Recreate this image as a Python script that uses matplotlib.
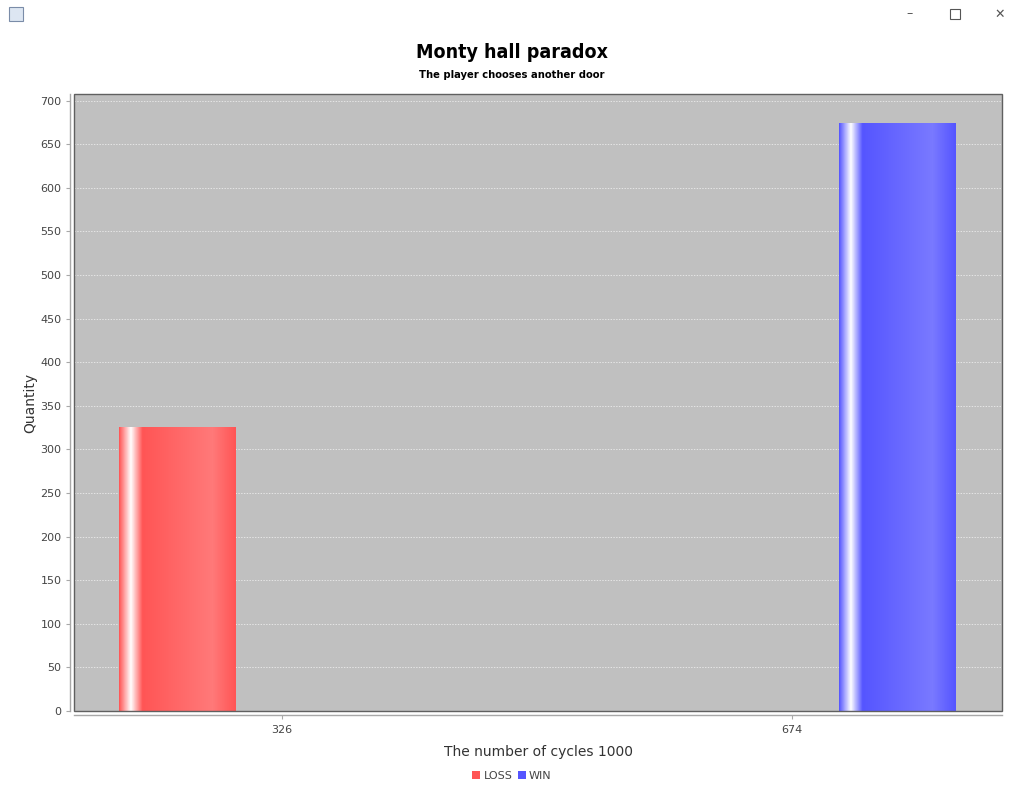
import numpy as np
import matplotlib
matplotlib.use("Agg")
import matplotlib.pyplot as plt
from matplotlib.patches import Patch, Rectangle
from matplotlib.colors import to_rgb

# ---- data ----
categories = ["326", "674"]
series_names = ["LOSS", "WIN"]
loss_values = [326, 0]
win_values = [0, 674]
y_ticks = list(range(0, 701, 50))

title = "Monty hall paradox"
subtitle = "The player chooses another door"
xlabel = "The number of cycles 1000"
ylabel = "Quantity"

colors = {"LOSS": "#FF5555", "WIN": "#5555FF"}

W, H = 1024, 797
fig = plt.figure(figsize=(W / 100, H / 100), dpi=100)
fig.patch.set_facecolor("white")

L, R, T, B = 74, 1002, 94, 711
ax = fig.add_axes([L / W, 1 - B / H, (R - L) / W, (B - T) / H])
ax.set_facecolor("#C0C0C0")

x = np.arange(len(categories))
width = 0.2275
offset = 0.205


def brighter(c):
    r, g, b = to_rgb(c)
    return tuple(min(1.0, v / 0.7) for v in (r, g, b))


def gradient_fill(bars, base):
    c0 = np.array(to_rgb(base))
    c1 = np.array(brighter(base))
    wt = np.array([1.0, 1.0, 1.0])
    stops = [0.0, 0.1, 0.2, 0.8, 1.0]
    cols = [c0, wt, c0, c1, c0]
    n = 200
    t = np.linspace(0, 1, n)
    img = np.zeros((1, n, 3))
    for k in range(3):
        img[0, :, k] = np.interp(t, stops, [c[k] for c in cols])
    for p in bars:
        h = p.get_height()
        if h <= 0:
            continue
        x0 = p.get_x()
        x1 = x0 + p.get_width()
        im = ax.imshow(img, extent=(x0, x1, 0, h), aspect="auto",
                       interpolation="bilinear", zorder=3)
        im.set_clip_path(p)
        p.set_facecolor("none")


bars_loss = ax.bar(x - offset, loss_values, width, color=colors["LOSS"], zorder=3, linewidth=0)
bars_win = ax.bar(x + offset, win_values, width, color=colors["WIN"], zorder=3, linewidth=0)
gradient_fill(bars_loss, colors["LOSS"])
gradient_fill(bars_win, colors["WIN"])

ax.set_xlim(-208 / 510, 720 / 510)
ax.set_ylim(0, 707.7)

ax.set_yticks(y_ticks)
ax.set_xticks(x)
ax.set_xticklabels(categories)
ax.yaxis.grid(True, color="#F4F4F4", linestyle=(0, (2, 2)), linewidth=0.5)
ax.set_axisbelow(True)

for s in ["top", "right"]:
    ax.spines[s].set_visible(False)
for s in ["left", "bottom"]:
    ax.spines[s].set_position(("outward", 3))
    ax.spines[s].set_color("#A8A8A8")
    ax.spines[s].set_linewidth(1.0)

ax.add_patch(Rectangle((0, 0), 1, 1, transform=ax.transAxes, fill=False,
                       edgecolor="#606060", linewidth=1.0, zorder=5, clip_on=False))

ax.tick_params(axis="both", colors="#A8A8A8", labelcolor="#444444", labelsize=8, length=3, width=0.8)
ax.tick_params(axis="y", pad=3)
ax.tick_params(axis="x", pad=4)

ax.set_xlabel(xlabel, fontsize=10, color="#333333", labelpad=7.5)
ax.set_ylabel(ylabel, fontsize=10, color="#333333", labelpad=2)

fig.text(512 / W, 1 - 53 / H, title, ha="center", va="center", fontsize=14,
         fontweight="bold", fontstretch="condensed", color="black")
fig.text(512 / W, 1 - 75 / H, subtitle, ha="center", va="center", fontsize=8,
         fontweight="bold", fontstretch="condensed", color="black")

handles = [Patch(facecolor=colors[n], edgecolor="none", label=n) for n in series_names]
fig.legend(handles=handles, loc="center", bbox_to_anchor=(512 / W, 1 - 776 / H), ncol=2,
           frameon=False, fontsize=8, handlelength=0.7, handleheight=0.7,
           handletextpad=0.3, columnspacing=0.5, labelcolor="#444444")

# window chrome
fig.text(910 / W, 1 - 14 / H, "\u2013", ha="center", va="center", fontsize=9, color="#555555")
fig.add_artist(Rectangle((950 / W, 1 - 19 / H), 10 / W, 10 / H, transform=fig.transFigure,
                         fill=False, edgecolor="#555555", linewidth=0.8))
fig.text(1000 / W, 1 - 14 / H, "\u2715", ha="center", va="center", fontsize=9, color="#555555")
fig.add_artist(Rectangle((9 / W, 1 - 21 / H), 14 / W, 14 / H, transform=fig.transFigure,
                         facecolor="#DDE6F2", edgecolor="#7A8CA8", linewidth=0.8))

fig.savefig("out.png", dpi=100)
